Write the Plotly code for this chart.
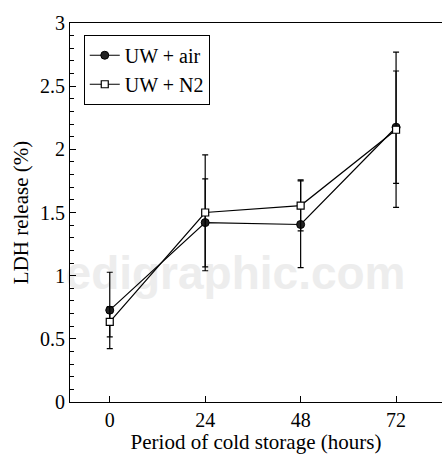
import plotly.graph_objects as go

hours = [0, 24, 48, 72]
x_ticks = [0, 24, 48, 72]

air_mean = [0.727, 1.42, 1.405, 2.175]
air_err_plus = [0.30, 0.346, 0.345, 0.595]
air_err_minus = [0.304, 0.35, 0.342, 0.635]

n2_mean = [0.635, 1.50, 1.555, 2.155]
n2_err_plus = [0.12, 0.456, 0.203, 0.465]
n2_err_minus = [0.12, 0.461, 0.201, 0.425]

FONT = "'Liberation Serif', 'Times New Roman', 'DejaVu Serif', serif"

fig = go.Figure()
fig.add_trace(go.Scatter(
    x=hours, y=air_mean, name="UW + air", mode="lines+markers",
    line=dict(color="black", width=1.2),
    marker=dict(symbol="circle", size=8, color="#222222", line=dict(color="black", width=1)),
    error_y=dict(type="data", symmetric=False, array=air_err_plus, arrayminus=air_err_minus,
                 color="black", thickness=1.2, width=3),
))
fig.add_trace(go.Scatter(
    x=hours, y=n2_mean, name="UW + N2", mode="lines+markers",
    line=dict(color="black", width=1.2),
    marker=dict(symbol="square", size=7, color="white", line=dict(color="black", width=1.2)),
    error_y=dict(type="data", symmetric=False, array=n2_err_plus, arrayminus=n2_err_minus,
                 color="black", thickness=1.2, width=3),
))

fig.add_shape(
    type="rect", xref="paper", yref="paper", x0=0.0, x1=0.89, y0=0.24, y1=0.46,
    line=dict(width=0), fillcolor="rgba(0,0,0,0)", layer="below",
    label=dict(text="<b>edigraphic.com</b>", textposition="middle center",
               font=dict(family="Liberation Sans", size=46, color="#ededed")),
)

fig.update_layout(
    width=442, height=454,
    margin=dict(l=69.5, r=0, t=23.3, b=52.3),
    paper_bgcolor="white", plot_bgcolor="white",
    font=dict(family=FONT, size=21, color="black"),
    showlegend=True,
    legend=dict(x=0.037, y=0.969, xanchor="left", yanchor="top",
                bordercolor="black", borderwidth=1, bgcolor="white",
                font=dict(family=FONT, size=20, color="black"),
                tracegroupgap=0, itemwidth=30),
    xaxis=dict(range=[-10, 83.55], tickvals=x_ticks, ticktext=[str(v) for v in x_ticks],
               ticks="inside", ticklen=6, tickcolor="black", tickwidth=1,
               showline=True, linecolor="black", linewidth=1, mirror=True,
               showgrid=False, zeroline=False,
               tickfont=dict(family=FONT, size=20),
               title=dict(text="Period of cold storage (hours)", font=dict(family=FONT, size=21), standoff=8)),
    yaxis=dict(range=[0, 3], dtick=0.5, tick0=0,
               ticks="inside", ticklen=6, tickcolor="black", tickwidth=1,
               minor=dict(dtick=0.1, ticks="inside", ticklen=4, tickcolor="black", tickwidth=1),
               showline=True, linecolor="black", linewidth=1, mirror=False,
               showgrid=False, zeroline=False,
               tickfont=dict(family=FONT, size=20),
               title=dict(text="LDH release (%)", font=dict(family=FONT, size=21), standoff=5)),
)

fig.write_html("out.html")
